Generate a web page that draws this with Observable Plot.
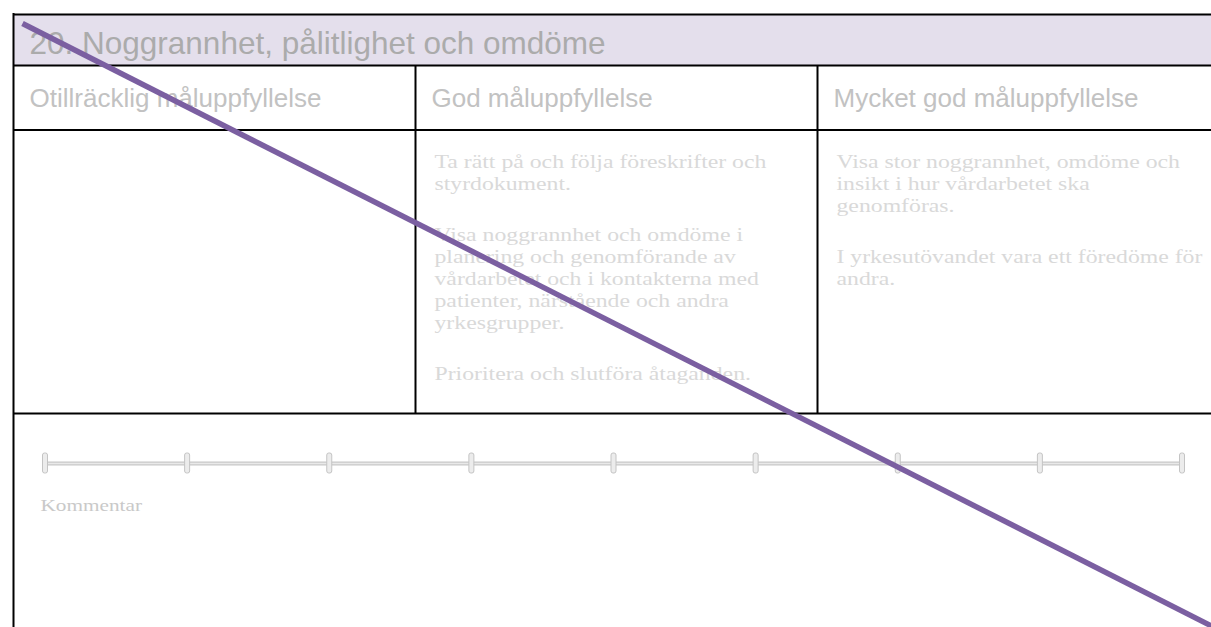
<!DOCTYPE html>
<html>
<head>
<meta charset="utf-8">
<script src="https://cdn.jsdelivr.net/npm/d3@7"></script>
<script src="https://cdn.jsdelivr.net/npm/@observablehq/plot@0.6"></script>
<style>
  html, body { margin: 0; padding: 0; background: #fff; overflow: hidden; }
  #chart svg { display: block; }
</style>
</head>
<body>
<div id="chart"></div>
<script>
// ---- content ----
const title = "20. Noggrannhet, pålitlighet och omdöme";
const levels = ["Otillräcklig måluppfyllelse", "God måluppfyllelse", "Mycket god måluppfyllelse"];
const levelParagraphs = [
  [],
  [
    ["Ta rätt på och följa föreskrifter och", "styrdokument."],
    ["Visa noggrannhet och omdöme i", "planering och genomförande av", "vårdarbetet och i kontakterna med", "patienter, närstående och andra", "yrkesgrupper."],
    ["Prioritera och slutföra åtaganden."]
  ],
  [
    ["Visa stor noggrannhet, omdöme och", "insikt i hur vårdarbetet ska", "genomföras."],
    ["I yrkesutövandet vara ett föredöme för", "andra."]
  ]
];
const sliderSteps = [1, 2, 3, 4, 5, 6, 7, 8, 9];
const commentLabel = "Kommentar";

// ---- layout (page geometry) ----
const W = 1211, H = 627;
const L = {
  left: 13, top: 14, right: W + 10, bottom: H + 10,
  headerBottom: 65, levelBottom: 129.5, textBottom: 413,
  colX: [13, 415, 817],
  pad: 16,
  titleY: 53, levelY: 106,
  bodyY: 167, lineH: 22, paraGap: 29,
  sliderY: 463, sliderX0: 45, sliderX1: 1182,
  commentY: 510, commentX: 40,
  slash: [[22, 23], [1214, 627]]
};

// derived tables
const bodyLines = [];
levelParagraphs.forEach((paras, c) => {
  let y = L.bodyY;
  paras.forEach(p => {
    p.forEach(line => { bodyLines.push({x: L.colX[c] + L.pad + 3, y, text: line}); y += L.lineH; });
    y += L.paraGap;
  });
});
const levelCells = levels.map((t, i) => ({x: L.colX[i] + L.pad, y: L.levelY, text: t}));
const stepX = i => L.sliderX0 + i * (L.sliderX1 - L.sliderX0) / (sliderSteps.length - 1);
const ticks = sliderSteps.map((s, i) => ({x: stepX(i), step: s}));

const plot = Plot.plot({
  width: W, height: H,
  margin: 0,
  x: {domain: [0, W], range: [0, W], axis: null},
  y: {domain: [0, H], range: [0, H], axis: null},
  marks: [
    // header band
    Plot.rect([0], {x1: L.left, x2: L.right, y1: L.top, y2: L.headerBottom, fill: "#e4dfec"}),
    // frame lines
    Plot.ruleY([L.top, L.headerBottom, L.levelBottom, L.textBottom], {x1: L.left, x2: L.right, stroke: "#000", strokeWidth: 2}),
    Plot.ruleX([L.left], {y1: L.top - 1, y2: L.bottom, stroke: "#000", strokeWidth: 2}),
    Plot.ruleX(L.colX.slice(1), {y1: L.headerBottom, y2: L.textBottom, stroke: "#000", strokeWidth: 2}),
    // title
    Plot.text([title], {x: L.left + 16, y: L.titleY, text: d => d, textAnchor: "start", lineAnchor: "bottom",
      fontFamily: "Liberation Sans", fontSize: 31.5, fill: "#ababab"}),
    // level headers
    Plot.text(levelCells, {x: "x", y: "y", text: "text", textAnchor: "start", lineAnchor: "bottom",
      fontFamily: "Liberation Sans", fontSize: 26, fill: "#c2c2c2"}),
    // body text
    Plot.text(bodyLines, {x: "x", y: "y", text: "text", textAnchor: "start", lineAnchor: "bottom",
      fontFamily: "Liberation Serif", fontSize: 19, fill: "#d9d9d9"}),
    // slider
    Plot.ruleY([L.sliderY], {x1: L.sliderX0, x2: L.sliderX1, stroke: "#c8c8c8", strokeWidth: 4}),
    Plot.ruleY([L.sliderY], {x1: L.sliderX0, x2: L.sliderX1, stroke: "#e9e9e9", strokeWidth: 1.5}),
    Plot.rect(ticks, {x1: d => d.x - 2.5, x2: d => d.x + 2.5, y1: L.sliderY - 10, y2: L.sliderY + 10,
      fill: "#ececec", stroke: "#c4c4c4", strokeWidth: 1, rx: 2}),
    // comment label
    Plot.text([commentLabel], {x: L.commentX, y: L.commentY, text: d => d, textAnchor: "start", lineAnchor: "bottom",
      fontFamily: "Liberation Serif", fontSize: 17, fill: "#c9c9c9"}),
    // diagonal strike
    Plot.line(L.slash, {x: d => d[0], y: d => d[1], stroke: "#7b5fa1", strokeWidth: 5.5, strokeLinecap: "butt"})
  ]
});

// horizontal stretch of the serif text, as in the reference rendering
const SX = 1.25;
plot.querySelectorAll("g[font-family='Liberation Serif'] text").forEach(t => {
  const x = +t.getAttribute("x") || 0, y = +t.getAttribute("y") || 0;
  const tr = t.getAttribute("transform") || "";
  t.removeAttribute("x"); t.removeAttribute("y");
  t.setAttribute("transform", `${tr} translate(${x},${y}) scale(${SX},1)`);
});
document.getElementById("chart").appendChild(plot);
</script>
</body>
</html>
